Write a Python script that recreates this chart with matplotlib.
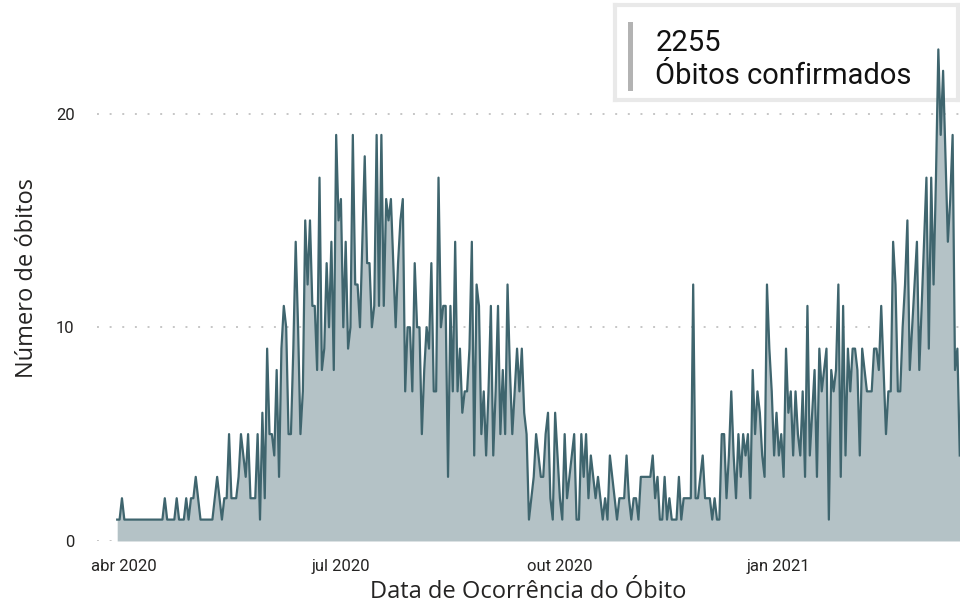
import numpy as np
import pandas as pd
import matplotlib
matplotlib.use("Agg")
from matplotlib import pyplot as plt
from matplotlib.patches import Rectangle

# daily deaths, one value per day starting 2020-03-29
start_date = "2020-03-29"
deaths = [
    1, 1, 2, 1, 1, 1, 1, 1, 1, 1, 1, 1, 1, 1, 1, 1, 1, 1, 1, 1,
    2, 1, 1, 1, 1, 2, 1, 1, 1, 2, 1, 2, 2, 3, 2, 1, 1, 1, 1, 1,
    1, 2, 3, 2, 1, 2, 2, 5, 2, 2, 2, 3, 5, 4, 3, 5, 2, 2, 2, 5,
    1, 6, 2, 9, 5, 5, 4, 8, 3, 9, 11, 10, 5, 5, 9, 14, 10, 5, 7, 15,
    12, 15, 11, 11, 8, 17, 8, 9, 13, 10, 14, 8, 19, 15, 16, 10, 14, 9, 10, 19,
    12, 12, 10, 14, 18, 13, 13, 10, 11, 19, 11, 19, 11, 16, 15, 16, 13, 10, 13, 15,
    16, 7, 10, 10, 7, 13, 10, 10, 5, 8, 10, 9, 13, 7, 7, 17, 10, 11, 11, 3,
    11, 7, 14, 7, 9, 6, 7, 7, 9, 14, 4, 12, 11, 5, 7, 4, 7, 11, 4, 7,
    11, 5, 8, 5, 12, 8, 5, 7, 9, 7, 9, 6, 5, 1, 2, 3, 5, 4, 3, 3,
    5, 6, 2, 1, 6, 4, 2, 1, 5, 2, 3, 4, 5, 1, 1, 5, 3, 5, 2, 4,
    3, 2, 3, 2, 1, 2, 1, 4, 3, 2, 1, 2, 2, 2, 4, 2, 1, 2, 2, 1,
    3, 3, 3, 3, 3, 4, 2, 3, 1, 1, 3, 1, 2, 1, 1, 1, 3, 1, 2, 2,
    2, 2, 12, 2, 2, 3, 4, 2, 2, 2, 1, 2, 1, 1, 5, 5, 2, 4, 7, 4,
    2, 5, 3, 5, 4, 5, 2, 8, 5, 7, 6, 4, 3, 12, 9, 7, 4, 6, 4, 5,
    3, 9, 6, 7, 4, 7, 5, 4, 7, 3, 11, 4, 6, 8, 3, 9, 7, 8, 9, 1,
    8, 7, 8, 12, 3, 11, 4, 9, 7, 9, 9, 8, 4, 9, 8, 7, 7, 7, 9, 9,
    8, 11, 8, 5, 7, 7, 14, 12, 7, 7, 10, 12, 15, 8, 10, 12, 14, 8, 11, 14,
    17, 9, 17, 12, 17, 23, 19, 22, 18, 14, 16, 19, 8, 9, 4,
]
tick_dates = ["2020-04-01", "2020-07-01", "2020-10-01", "2021-01-01"]
tick_labels = ["abr 2020", "jul 2020", "out 2020", "jan 2021"]
y_ticks = [0, 10, 20]
total_label = "2255"
card_label = "Óbitos confirmados"

dates = pd.date_range(start_date, periods=len(deaths), freq="D")

line_color = "#3f656e"
fill_color = "#b4c2c6"

plt.rcParams["font.family"] = ["Roboto", "DejaVu Sans"]

fig = plt.figure(figsize=(9.6, 6.09), dpi=100)

# card in the top right corner, drawn under the chart
card = fig.add_axes([0.641, 0.836, 0.357, 0.156], zorder=0)
card.set_facecolor("white")
card.set_xticks([])
card.set_yticks([])
card.set_xlim(0, 1)
card.set_ylim(0, 1)
for s in card.spines.values():
    s.set_color("#e9e9e9")
    s.set_linewidth(3)
card.add_patch(Rectangle((0.038, 0.09), 0.013, 0.73, color="#b3b3b3", lw=0))
card.text(0.117, 0.60, total_label, fontsize=21, color="#111111", va="center", ha="left")
card.text(0.117, 0.25, card_label, fontsize=21, color="#111111", va="center", ha="left")

ax = fig.add_axes([0.101, 0.1117, 0.899, 0.8633], zorder=1)
ax.patch.set_alpha(0)

ax.fill_between(dates, deaths, color=fill_color, lw=0, zorder=2)
ax.plot(dates, deaths, color=line_color, lw=1.6, zorder=3)

for v in y_ticks:
    ax.axhline(v, color="#c6c6c6", lw=1.4, dashes=(1, 5.5), zorder=1)

ax.set_ylim(0, 24.6)
ax.set_xlim(pd.Timestamp(start_date) - pd.Timedelta(days=8.5),
            pd.Timestamp(start_date) + pd.Timedelta(days=354.1))
ax.set_yticks(y_ticks)
ax.set_xticks(pd.to_datetime(tick_dates))
ax.set_xticklabels(tick_labels)
ax.tick_params(axis="both", length=0, labelsize=12, labelcolor="#252423")
ax.tick_params(axis="y", pad=16)
ax.tick_params(axis="x", pad=13)
for s in ax.spines.values():
    s.set_visible(False)

ax.set_xlabel("Data de Ocorrência do Óbito", family=["Open Sans", "DejaVu Sans"],
              fontsize=17, color="#252423", labelpad=4)
ax.set_ylabel("Número de óbitos", family=["Open Sans", "DejaVu Sans"],
              fontsize=17, color="#252423", labelpad=12)

fig.savefig("out.png", dpi=100)
